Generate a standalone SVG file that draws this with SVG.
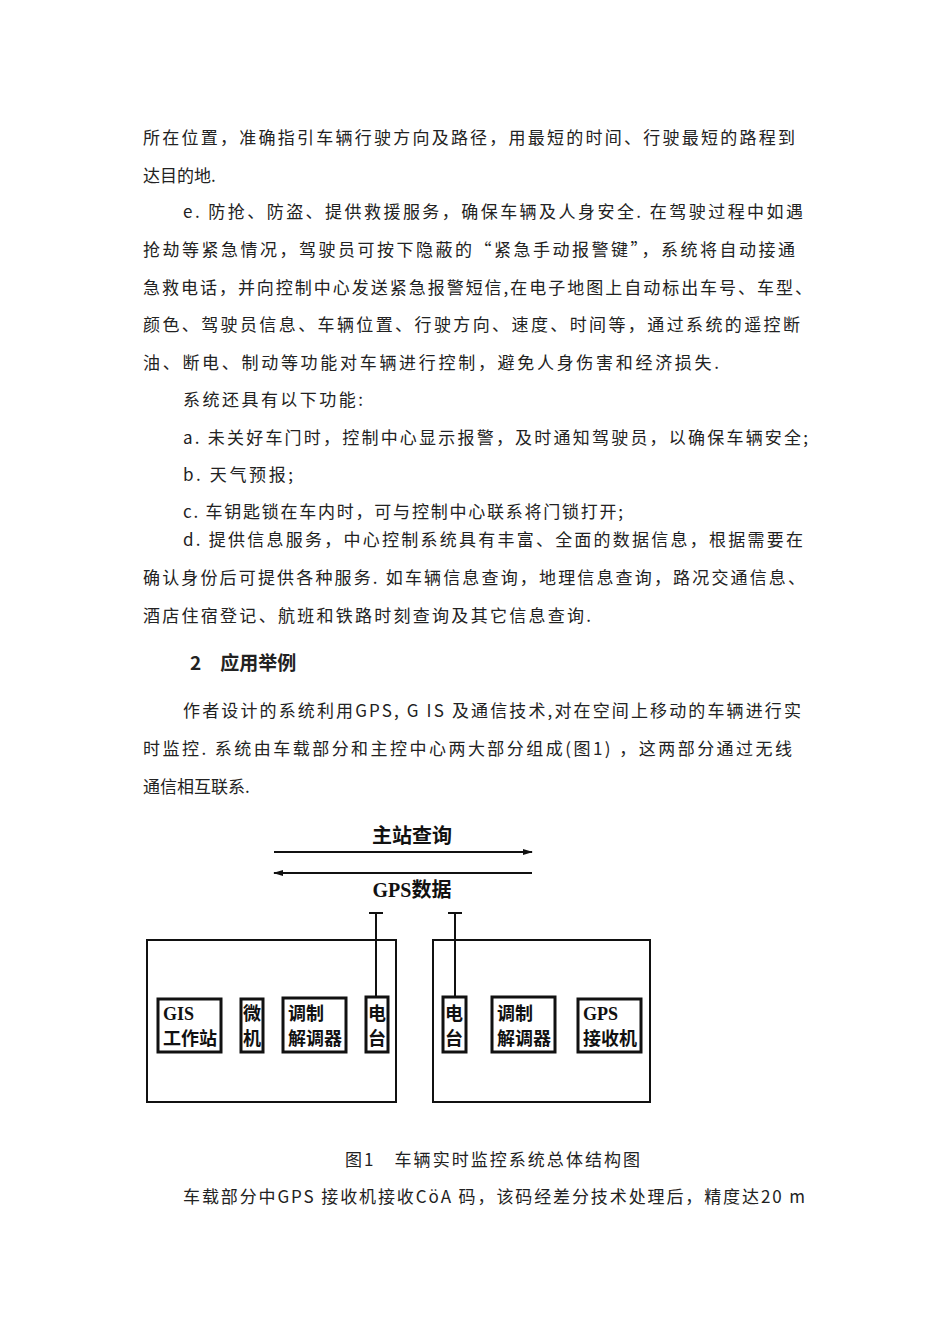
<svg xmlns="http://www.w3.org/2000/svg" width="950" height="1344" viewBox="0 0 950 1344">
<style>
.t{font-family:"Noto Sans CJK SC","Liberation Serif",serif;font-size:17px;fill:#222}
.b{font-family:"Liberation Serif","Noto Sans CJK SC",serif;font-size:18px;font-weight:bold;fill:#111}
.box{fill:none;stroke:#111;stroke-width:2}
.ib{fill:#fff;stroke:#111;stroke-width:3}
.ln{stroke:#111;stroke-width:2;fill:none}
</style>
<defs><marker id="ah" markerWidth="10" markerHeight="8" refX="9" refY="4" orient="auto" markerUnits="userSpaceOnUse"><path d="M0,1 L10,4 L0,7Z" fill="#111"/></marker></defs>
<rect width="950" height="1344" fill="#fff"/>
<g id="text">
<text class="t" x="143" y="144" textLength="652" lengthAdjust="spacing">所在位置，准确指引车辆行驶方向及路径，用最短的时间、行驶最短的路程到</text>
<text class="t" x="143" y="182">达目的地.</text>
<text class="t" x="183" y="218" textLength="620" lengthAdjust="spacing">e. 防抢、防盗、提供救援服务，确保车辆及人身安全. 在驾驶过程中如遇</text>
<text class="t" x="143" y="256" textLength="652" lengthAdjust="spacing">抢劫等紧急情况，驾驶员可按下隐蔽的“紧急手动报警键”，系统将自动接通</text>
<text class="t" x="143" y="294" textLength="669" lengthAdjust="spacing">急救电话，并向控制中心发送紧急报警短信,在电子地图上自动标出车号、车型、</text>
<text class="t" x="143" y="331" textLength="657" lengthAdjust="spacing">颜色、驾驶员信息、车辆位置、行驶方向、速度、时间等，通过系统的遥控断</text>
<text class="t" x="143" y="369" textLength="576" lengthAdjust="spacing">油、断电、制动等功能对车辆进行控制，避免人身伤害和经济损失.</text>
<text class="t" x="183" y="406" textLength="180" lengthAdjust="spacing">系统还具有以下功能:</text>
<text class="t" x="183" y="444" textLength="625" lengthAdjust="spacing">a. 未关好车门时，控制中心显示报警，及时通知驾驶员，以确保车辆安全;</text>
<text class="t" x="183" y="481" textLength="110" lengthAdjust="spacing">b. 天气预报;</text>
<text class="t" x="183" y="518" textLength="440" lengthAdjust="spacing">c. 车钥匙锁在车内时，可与控制中心联系将门锁打开;</text>
<text class="t" x="183" y="546" textLength="620" lengthAdjust="spacing">d. 提供信息服务，中心控制系统具有丰富、全面的数据信息，根据需要在</text>
<text class="t" x="143" y="584" textLength="662" lengthAdjust="spacing">确认身份后可提供各种服务. 如车辆信息查询，地理信息查询，路况交通信息、</text>
<text class="t" x="143" y="622" textLength="448" lengthAdjust="spacing">酒店住宿登记、航班和铁路时刻查询及其它信息查询.</text>
<text class="t" x="190" y="670" style="font-weight:bold;font-size:19px">2　应用举例</text>
<text class="t" x="183" y="717" textLength="618" lengthAdjust="spacing">作者设计的系统利用GPS, G IS 及通信技术,对在空间上移动的车辆进行实</text>
<text class="t" x="143" y="755" textLength="649" lengthAdjust="spacing">时监控. 系统由车载部分和主控中心两大部分组成(图1) ，这两部分通过无线</text>
<text class="t" x="143" y="793">通信相互联系.</text>
<text class="t" x="345" y="1166" textLength="295" lengthAdjust="spacing">图1　车辆实时监控系统总体结构图</text>
<text class="t" x="183" y="1203" textLength="622" lengthAdjust="spacing">车载部分中GPS 接收机接收CöA 码，该码经差分技术处理后，精度达20 m</text>
</g>
<g id="connectors">
<line class="ln" x1="274" y1="852" x2="532" y2="852" marker-end="url(#ah)"/>
<line class="ln" x1="532" y1="873" x2="274" y2="873" marker-end="url(#ah)"/>
<path class="ln" d="M376,997V913M369,913H383M455,997V913M448,913H462"/>
</g>
<g id="labels">
<text class="b" x="412" y="843" text-anchor="middle" style="font-size:20px">主站查询</text>
<text class="b" x="412" y="897" text-anchor="middle" style="font-size:20px">GPS数据</text>
</g>
<g id="vehicle"><rect class="box" x="147" y="940" width="249" height="162"/></g>
<g id="center"><rect class="box" x="433" y="940" width="217" height="162"/></g>
<g id="gis"><rect class="ib" x="158" y="999" width="63" height="53"/><text class="b" x="163" y="1020">GIS</text><text class="b" x="163" y="1045" textLength="54" lengthAdjust="spacingAndGlyphs">工作站</text></g>
<g id="mcu"><rect class="ib" x="241" y="999" width="22" height="53"/><text class="b" x="243" y="1020" textLength="18" lengthAdjust="spacingAndGlyphs">微</text><text class="b" x="243" y="1045" textLength="18" lengthAdjust="spacingAndGlyphs">机</text></g>
<g id="modem1"><rect class="ib" x="283" y="998" width="63" height="54"/><text class="b" x="288" y="1020">调制</text><text class="b" x="288" y="1045" textLength="54" lengthAdjust="spacingAndGlyphs">解调器</text></g>
<g id="radio1"><rect class="ib" x="366" y="997" width="22" height="55"/><text class="b" x="368" y="1020" textLength="18" lengthAdjust="spacingAndGlyphs">电</text><text class="b" x="368" y="1045" textLength="18" lengthAdjust="spacingAndGlyphs">台</text></g>
<g id="radio2"><rect class="ib" x="443" y="997" width="23" height="55"/><text class="b" x="445" y="1020" textLength="18" lengthAdjust="spacingAndGlyphs">电</text><text class="b" x="445" y="1045" textLength="18" lengthAdjust="spacingAndGlyphs">台</text></g>
<g id="modem2"><rect class="ib" x="492" y="997" width="63" height="55"/><text class="b" x="497" y="1020">调制</text><text class="b" x="497" y="1045" textLength="54" lengthAdjust="spacingAndGlyphs">解调器</text></g>
<g id="gps"><rect class="ib" x="578" y="999" width="63" height="53"/><text class="b" x="583" y="1020">GPS</text><text class="b" x="583" y="1045" textLength="54" lengthAdjust="spacingAndGlyphs">接收机</text></g>
</svg>
